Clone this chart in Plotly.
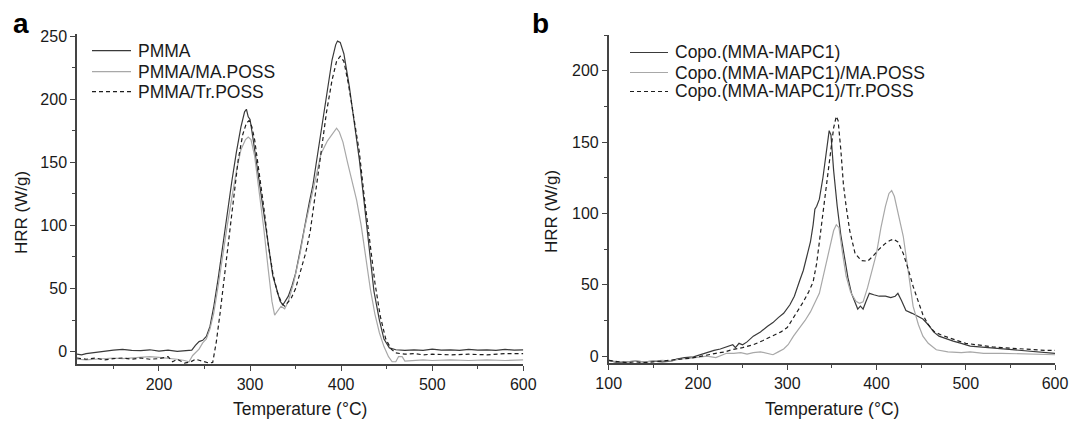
import plotly.graph_objects as go

# ---------------- Panel a data ----------------
a_pmma_T = [110,115,120,130,140,150,160,170,180,190,200,210,220,230,236,240,244,248,252,256,260,265,270,275,280,285,290,294,296,298,300,303,306,310,315,321,325,329,333,336,339,342,346,350,355,360,365,369,375,380,385,390,394,396,399,403,409,415,420,425,431,436,442,447,453,460,470,480,490,500,510,520,530,540,550,560,570,580,590,600]
a_pmma_H = [-2,-2.5,-1.5,-0.5,0.5,1.2,1.8,1,0.8,1.5,0.5,1.2,0.3,0.8,1.2,5,8,9,12,20,35,58,85,110,135,158,178,190,192,186,184,170,155,136,108,78,60,50,40,37,40,44,52,62,80,100,118,132,160,183,208,231,243,246,245,236,210,180,152,120,78,48,25,10,3,1.5,1,1.5,1,2,1.2,1.5,1,1.8,1.2,1.5,1,1.8,1.2,1.5]

a_ma_T = [110,120,130,140,150,160,170,180,190,200,210,220,228,233,237,240,244,248,252,256,260,265,270,275,280,285,290,295,298,301,305,310,315,320,324,327,330,334,338,342,348,355,360,365,372,378,385,390,395,398,402,407,412,417,422,427,432,437,442,447,452,456,460,463,467,470,480,490,500,520,540,560,580,600]
a_ma_H = [-6,-6.5,-6,-5.5,-5,-5.5,-5,-4.5,-4,-4.5,-5,-6,-7,-8,-3,-1,2,7,10,18,30,52,78,100,122,143,160,168,170,168,155,128,98,65,40,29,32,36,34,40,55,78,98,115,138,157,167,172,177,174,166,150,135,120,100,75,50,30,15,4,-4,-8,-8,-4,-4,-7.5,-7,-6.5,-7,-6.5,-7,-6.5,-7,-6.5]

a_tr_T = [110,120,130,140,150,160,170,180,190,200,210,215,220,228,235,240,245,250,255,259,263,267,272,277,282,287,292,296,299,302,305,310,315,320,325,330,335,338,341,345,350,355,361,366,372,378,384,390,395,399,403,408,414,420,425,431,437,443,449,455,460,470,480,490,500,520,540,560,580,600]
a_tr_H = [-5,-6,-5,-6.5,-5.5,-5,-6,-5,-6,-5.5,-4,-8,-6,-9,-8,-6,-7,-8,-9,-8.5,8,30,60,94,125,152,172,181,183,178,168,143,115,85,62,47,38,36,39,42,50,62,78,95,125,158,190,215,230,234,230,212,185,158,125,90,55,28,10,2,-1,-2,-1.5,-2.5,-2,-2.5,-2,-2.5,-1.5,-1.5]

# ---------------- Panel b data ----------------
b_copo_T = [100,105,110,120,130,140,150,160,170,176,185,195,202,210,218,225,232,239,242,246,250,255,262,270,278,284,290,296,303,308,314,318,322,326,329,331,333,336,340,344,347,349,352,356,360,364,368,372,376,379,382,385,388,392,397,403,410,416,421,424,428,433,440,446,452,458,464,470,478,486,495,505,515,525,535,545,555,565,575,585,600]
b_copo_H = [-3,-4,-4.5,-4,-3.5,-4,-3.5,-4,-3.5,-2,-1,-0.5,1,2.5,4,5,6.5,8,6,9,8,10,14,17,21,23.5,27,30,36,42,53,60,70,80,92,103,105,110,125,145,158,155,130,105,85,70,55,44,37,33,35,33,38,44,43,42,42,41,42,44,39,32,30,28,26,22,17,14,12,10.5,9,7,6.5,6,5.5,5,4,4,3,3,2]

b_ma_T = [100,110,120,130,140,150,160,170,180,190,200,210,220,226,232,240,248,255,262,270,278,284,290,296,301,307,314,320,326,331,336,340,344,348,352,355,358,362,366,371,377,381,385,390,395,400,405,410,414,417,420,424,430,435,441,447,452,458,467,480,495,505,520,540,560,580,600]
b_ma_H = [-3,-4,-4,-3.5,-4,-3.5,-3,-3.5,-2,-1.5,-0.5,0,-1,0.5,2,2,2.5,1.5,2.5,3,2,1,3,5,8,14,20,25,31,37,44,55,66,76,88,92,90,72,56,45,38.5,37,38,48,60,72,90,105,114,116,112,101,84,62,35,22,14,9,4.5,3,2.5,3,2,2,1.5,1.5,1]

b_tr_T = [100,110,120,130,140,150,160,170,180,190,200,210,220,230,239,250,262,273,284,293,300,306,312,318,324,329,333,337,341,345,349,352,355,357,360,363,366,370,376,383,390,396,403,410,415,419,424,430,436,441,447,452,458,465,472,480,490,500,510,520,530,540,550,560,570,580,590,600]
b_tr_H = [-3,-4,-4.5,-4,-4.5,-4,-3.5,-3,-2.5,-1.5,-0.5,1,2,3,4.7,6,8,11,14,17,20,26,32,38,45,52,65,85,105,128,148,160,168,165,145,120,105,88,72,67,66.5,70,75,79,81,82,80,72,60,49,38,29,22,17,15,13,11,9,8,7,6.5,6,5.5,5,4.5,4.5,4,4]

names_a = ["PMMA", "PMMA/MA.POSS", "PMMA/Tr.POSS"]
names_b = ["Copo.(MMA-MAPC1)", "Copo.(MMA-MAPC1)/MA.POSS", "Copo.(MMA-MAPC1)/Tr.POSS"]
x_title = "Temperature (°C)"
y_title = "HRR (W/g)"

DARK = "#3a3a3a"
LIGHT = "#a8a8a8"
DASH = "#1e1e1e"
FONT = "Arial, Liberation Sans, sans-serif"
TXT = "#1a1a1a"

# body margin is removed by the post script, so positions are window pixels
W, Hh = 1069, 421
def px(x):
    return x / W
def py(y):
    return 1 - y / Hh

fig = go.Figure()
styles = [(DARK, "solid"), (LIGHT, "solid"), (DASH, "4px,3px")]

for (T, H), nm, (c, d) in zip([(a_pmma_T, a_pmma_H), (a_ma_T, a_ma_H), (a_tr_T, a_tr_H)], names_a, styles):
    fig.add_trace(go.Scatter(x=T, y=H, mode="lines", name=nm, line=dict(color=c, width=1.2, dash=d),
                             xaxis="x", yaxis="y", showlegend=False))
for (T, H), nm, (c, d) in zip([(b_copo_T, b_copo_H), (b_ma_T, b_ma_H), (b_tr_T, b_tr_H)], names_b, styles):
    fig.add_trace(go.Scatter(x=T, y=H, mode="lines", name=nm, line=dict(color=c, width=1.2, dash=d),
                             xaxis="x2", yaxis="y2", showlegend=False))

axcommon = dict(showgrid=False, zeroline=False, showline=True, linecolor="#444", linewidth=1.5,
                ticks="outside", ticklen=5, tickwidth=1.2, tickcolor="#444", automargin=False,
                ticklabeloverflow="allow",
                tickfont=dict(family=FONT, size=16, color=TXT))

annotations = [
    dict(text="<b>a</b>", x=px(20.5), y=py(23.6), font=dict(family=FONT, size=28, color="black")),
    dict(text="<b>b</b>", x=px(540), y=py(23.6), font=dict(family=FONT, size=28, color="black")),
    dict(text=x_title, x=px(300), y=py(409), font=dict(family=FONT, size=17.5, color=TXT)),
    dict(text=x_title, x=px(832), y=py(409), font=dict(family=FONT, size=17.5, color=TXT)),
    dict(text=y_title, x=px(21), y=py(213), textangle=-90, font=dict(family=FONT, size=17, color=TXT)),
    dict(text=y_title, x=px(551), y=py(212), textangle=-90, font=dict(family=FONT, size=17, color=TXT)),
]
shapes = []
# legends (line sample + label), panel a then panel b
leg_a_rows = [50.7, 71.7, 91.7]
leg_b_rows = [52.5, 72.5, 91.5]
for names, rows, x0, x1, xt in [(names_a, leg_a_rows, 92, 131, 136), (names_b, leg_b_rows, 630, 668, 673)]:
    for nm, r, (c, d) in zip(names, rows, styles):
        shapes.append(dict(type="line", xref="paper", yref="paper", x0=px(x0), x1=px(x1), y0=py(r), y1=py(r),
                           line=dict(color=c, width=1.2, dash=d)))
        annotations.append(dict(text=nm, x=px(xt), y=py(r), xanchor="left",
                                font=dict(family=FONT, size=17.5, color=TXT)))
for an in annotations:
    an.setdefault("xref", "paper")
    an.setdefault("yref", "paper")
    an.setdefault("showarrow", False)
    an.setdefault("xanchor", "center")
    an.setdefault("yanchor", "middle")

fig.update_layout(
    width=W, height=Hh, margin=dict(l=0, r=0, t=0, b=0, autoexpand=False),
    paper_bgcolor="white", plot_bgcolor="white", showlegend=False,
    xaxis=dict(domain=[px(77), px(523.3)], range=[110, 600], dtick=100, tick0=0, anchor="y",
               minor=dict(ticks="outside", ticklen=3, dtick=50, tick0=0, tickcolor="#444"), **axcommon),
    yaxis=dict(domain=[py(364.3), py(33.5)], range=[-10, 252], dtick=50, tick0=0, anchor="x",
               minor=dict(ticks="outside", ticklen=3, dtick=25, tick0=0, tickcolor="#444"), **axcommon),
    xaxis2=dict(domain=[px(608.7), px(1055)], range=[100, 600], dtick=100, tick0=0, anchor="y2",
                minor=dict(ticks="outside", ticklen=3, dtick=50, tick0=0, tickcolor="#444"), **axcommon),
    yaxis2=dict(domain=[py(363.3), py(35)], range=[-5, 225], dtick=50, tick0=0, anchor="x2",
                minor=dict(ticks="outside", ticklen=3, dtick=25, tick0=0, tickcolor="#444"), **axcommon),
    annotations=annotations,
    shapes=shapes,
)

fig.write_html("out.html", config={"displayModeBar": False},
               post_script="document.body.style.margin='0';document.body.style.overflow='hidden';")
